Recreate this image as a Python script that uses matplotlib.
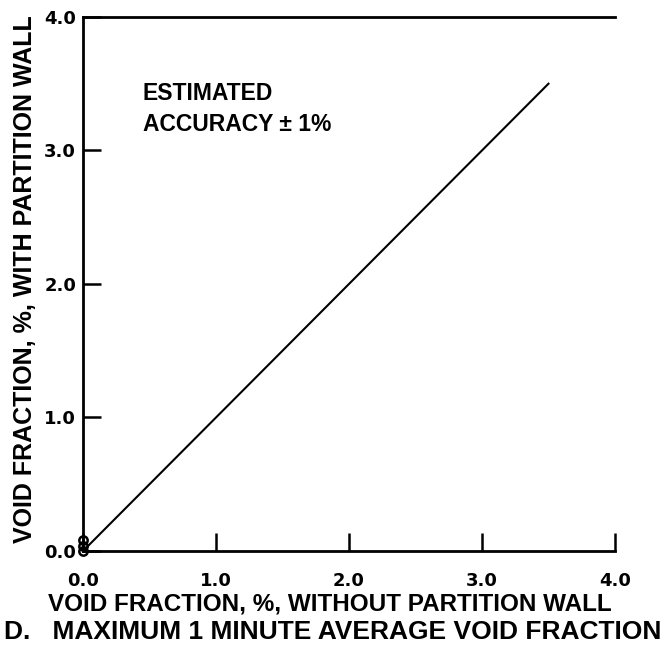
import matplotlib
matplotlib.use("Agg")
import matplotlib.pyplot as plt

# data
line_x = [0.0, 3.5]
line_y = [0.0, 3.5]
pts_x = [0.0, 0.0, 0.0]
pts_y = [0.0, 0.04, 0.08]
ticks = [0.0, 1.0, 2.0, 3.0, 4.0]
tick_labels = ["0.0", "1.0", "2.0", "3.0", "4.0"]

plt.rcParams['font.family'] = ['Liberation Sans', 'DejaVu Sans']

fig = plt.figure(figsize=(6.65, 6.61), dpi=100)
ax = fig.add_axes([0.1248, 0.1664, 0.8, 0.808])

ax.plot(line_x, line_y, color="black", lw=1.5)
ax.plot(pts_x, pts_y, "o", mfc="none", mec="black", ms=6, mew=1.8, clip_on=False)

ax.set_xlim(0, 4)
ax.set_ylim(0, 4)
ax.spines["right"].set_visible(False)
for s in ["left", "top", "bottom"]:
    ax.spines[s].set_linewidth(2)

# tick labels in a blocky bold face
ax.set_xticks(ticks)
ax.set_xticklabels(tick_labels, fontsize=13, fontweight="bold", family="DejaVu Sans")
ax.set_yticks(ticks)
ax.set_yticklabels(tick_labels, fontsize=13, fontweight="bold", family="DejaVu Sans")
ax.tick_params(direction="in", length=13, width=1.8)
ax.tick_params(axis="x", pad=15)
ax.tick_params(axis="y", pad=5)

fig.text(0.496, 0.0862, "VOID FRACTION, %, WITHOUT PARTITION WALL",
         fontsize=17.5, fontweight="bold", ha="center", va="center")
fig.text(0.0376, 0.578, "VOID FRACTION, %, WITH PARTITION WALL",
         fontsize=18, fontweight="bold", ha="center", va="center", rotation=90)

ax.text(0.45, 3.51, "ESTIMATED\nACCURACY \u00b1 1%", fontsize=16.5, fontweight="bold",
        va="top", linespacing=1.4)

fig.text(0.5, 0.0439, "D.   MAXIMUM 1 MINUTE AVERAGE VOID FRACTION",
         fontsize=19, fontweight="bold", ha="center", va="center")

fig.savefig("out.png", dpi=100)
